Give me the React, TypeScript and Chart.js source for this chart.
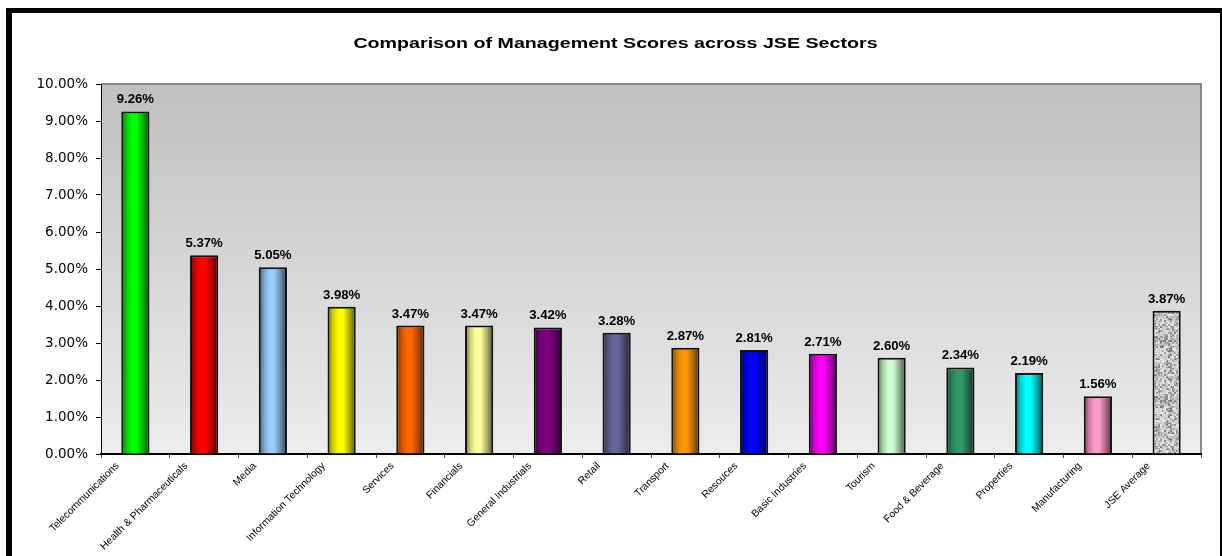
import React, { useEffect, useRef } from "react";
import { Chart, registerables } from "chart.js";

Chart.register(...registerables);

const TITLE = "Comparison of Management Scores across JSE Sectors";

const sectors = [
  "Telecommunications",
  "Health & Pharmaceuticals",
  "Media",
  "Information Technology",
  "Services",
  "Financials",
  "General Industrials",
  "Retail",
  "Transport",
  "Resouces",
  "Basic Industries",
  "Tourism",
  "Food & Beverage",
  "Properties",
  "Manufacturing",
  "JSE Average",
];

const scores = [
  0.0926, 0.0537, 0.0505, 0.0398, 0.0347, 0.0347, 0.0342, 0.0328, 0.0287,
  0.0281, 0.0271, 0.026, 0.0234, 0.0219, 0.0156, 0.0387,
];

const barColors = [
  "#00FF00",
  "#FF0000",
  "#99CCFF",
  "#FFFF00",
  "#FF6600",
  "#FFFF99",
  "#800080",
  "#666699",
  "#FF9900",
  "#0000FF",
  "#FF00FF",
  "#CCFFCC",
  "#339966",
  "#00FFFF",
  "#FF99CC",
  "granite",
];

const yTicks = [0, 0.01, 0.02, 0.03, 0.04, 0.05, 0.06, 0.07, 0.08, 0.09, 0.1];

const BAR_PCT = 0.41;

function shade(hex: string, f: number): string {
  const n = parseInt(hex.slice(1), 16);
  const r = Math.round(((n >> 16) & 255) * f);
  const g = Math.round(((n >> 8) & 255) * f);
  const b = Math.round((n & 255) * f);
  return `rgb(${Math.min(255, r)},${Math.min(255, g)},${Math.min(255, b)})`;
}

function hashNoise(x: number, y: number): number {
  let h = (x * 374761393 + y * 668265263) | 0;
  h = Math.imul(h ^ (h >>> 13), 1274126177);
  h = (h ^ (h >>> 16)) >>> 0;
  return (h % 1000) / 1000;
}

let granitePattern: CanvasPattern | null = null;
function getGranite(ctx: CanvasRenderingContext2D): CanvasPattern | string {
  if (granitePattern) return granitePattern;
  const S = 60;
  const c = document.createElement("canvas");
  c.width = S;
  c.height = S;
  const g = c.getContext("2d");
  if (!g) return "#c8c8c8";
  const img = g.createImageData(S, S);
  for (let y = 0; y < S; y++) {
    for (let x = 0; x < S; x++) {
      const coarse = hashNoise(Math.floor(x / 2), Math.floor(y / 2));
      const fine = hashNoise(x + 101, y + 57);
      const t = coarse * 0.7 + fine * 0.3;
      let v: number;
      if (t < 0.22) v = 120;
      else if (t < 0.4) v = 160;
      else if (t < 0.68) v = 200;
      else v = 228;
      const i = (y * S + x) * 4;
      img.data[i] = v;
      img.data[i + 1] = v;
      img.data[i + 2] = v;
      img.data[i + 3] = 255;
    }
  }
  g.putImageData(img, 0, 0);
  granitePattern = ctx.createPattern(c, "repeat");
  return granitePattern || "#c8c8c8";
}

const framePlugin = {
  id: "frame",
  beforeDraw(chart: any) {
    const { ctx, chartArea: a, width, height } = chart;
    ctx.save();
    ctx.fillStyle = "#ffffff";
    ctx.fillRect(0, 0, width, height);
    const grad = ctx.createLinearGradient(0, a.top, 0, a.bottom);
    grad.addColorStop(0, "#c0c0c0");
    grad.addColorStop(1, "#ececec");
    ctx.fillStyle = grad;
    ctx.fillRect(a.left, a.top, a.right - a.left, a.bottom - a.top);
    ctx.strokeStyle = "#8a8a8a";
    ctx.lineWidth = 2;
    ctx.beginPath();
    ctx.moveTo(a.left, a.top);
    ctx.lineTo(a.right, a.top);
    ctx.lineTo(a.right, a.bottom);
    ctx.stroke();
    ctx.restore();

    ctx.save();
    ctx.fillStyle = "#000";
    ctx.font = "bold 15px 'Liberation Sans', Arial, sans-serif";
    ctx.textAlign = "center";
    ctx.textBaseline = "alphabetic";
    ctx.translate(615.5, 47.5);
    ctx.scale(1.31, 1);
    ctx.fillText(TITLE, 0, 0);
    ctx.restore();
  },
  afterDraw(chart: any) {
    const { ctx, width, height } = chart;
    ctx.save();
    ctx.fillStyle = "#000";
    ctx.fillRect(6, 8, 6, height - 8);
    ctx.fillRect(6, 8, width - 6, 5);
    ctx.fillRect(width - 2, 8, 2, height - 8);
    ctx.restore();
  },
};

const valueLabelPlugin = {
  id: "valueLabels",
  afterDatasetsDraw(chart: any) {
    const { ctx } = chart;
    const meta = chart.getDatasetMeta(0);
    meta.data.forEach((bar: any, i: number) => {
      const v = scores[i];
      ctx.save();
      ctx.fillStyle = "#000";
      ctx.font = "bold 12px 'Liberation Sans', Arial, sans-serif";
      ctx.textAlign = "center";
      ctx.textBaseline = "alphabetic";
      ctx.translate(bar.x, bar.y - 8);
      ctx.scale(1.1, 1);
      ctx.fillText((v * 100).toFixed(2) + "%", 0, 0);
      ctx.restore();
    });
  },
};

export default function App() {
  const ref = useRef<HTMLCanvasElement | null>(null);

  useEffect(() => {
    if (!ref.current) return;
    const chart = new Chart(ref.current, {
      type: "bar",
      data: {
        labels: sectors,
        datasets: [
          {
            data: scores,
            backgroundColor: (c: any) => {
              const chart = c.chart;
              const i = c.dataIndex;
              const color = barColors[i];
              if (i === undefined || !chart.chartArea || !chart.scales.x) {
                return color === "granite" ? "#c8c8c8" : color || "#888";
              }
              if (color === "granite") return getGranite(chart.ctx);
              const xs = chart.scales.x;
              const x = xs.getPixelForValue(i);
              const w = (xs.width / sectors.length) * BAR_PCT;
              const g = chart.ctx.createLinearGradient(x - w / 2, 0, x + w / 2, 0);
              g.addColorStop(0, shade(color, 0.4));
              g.addColorStop(0.18, shade(color, 0.8));
              g.addColorStop(0.38, shade(color, 1));
              g.addColorStop(0.55, shade(color, 1));
              g.addColorStop(0.8, shade(color, 0.65));
              g.addColorStop(1, shade(color, 0.3));
              return g;
            },
            borderColor: "#111",
            borderWidth: 2,
            barPercentage: BAR_PCT,
            categoryPercentage: 1,
          },
        ],
      },
      options: {
        animation: false,
        responsive: false,
        devicePixelRatio: 1,
        layout: { padding: { top: 84, right: 21, bottom: 0, left: 0 } },
        plugins: {
          legend: { display: false },
          title: { display: false },
          tooltip: { enabled: false },
        },
        scales: {
          x: {
            offset: true,
            grid: {
              offset: true,
              drawOnChartArea: false,
              drawTicks: true,
              tickLength: 4,
              color: "#444",
            },
            border: { color: "#000", width: 2 },
            ticks: {
              autoSkip: false,
              minRotation: 45,
              maxRotation: 45,
              padding: 2,
              labelOffset: -18,
              color: "#000",
              font: { family: "'Liberation Sans', Arial, sans-serif", size: 10.3 },
            },
            afterFit: (s: any) => {
              s.height = 102;
            },
          },
          y: {
            min: 0,
            max: 0.1,
            afterBuildTicks: (s: any) => {
              s.ticks = yTicks.map((v) => ({ value: v }));
            },
            grid: {
              drawOnChartArea: false,
              drawTicks: true,
              tickLength: 5,
              color: "#000",
            },
            border: { color: "#000", width: 1 },
            ticks: {
              padding: 8,
              color: "#000",
              font: { family: "'DejaVu Sans', sans-serif", size: 13.5 },
              callback: (v: any) => (Number(v) * 100).toFixed(2) + "%",
            },
            afterFit: (s: any) => {
              s.width = 101;
            },
          },
        },
      },
      plugins: [framePlugin, valueLabelPlugin],
    });
    return () => chart.destroy();
  }, []);

  return (
    <div style={{ position: "absolute", left: 0, top: 0, width: 1222, height: 556 }}>
      <canvas ref={ref} width={1222} height={556} style={{ display: "block" }} />
    </div>
  );
}
